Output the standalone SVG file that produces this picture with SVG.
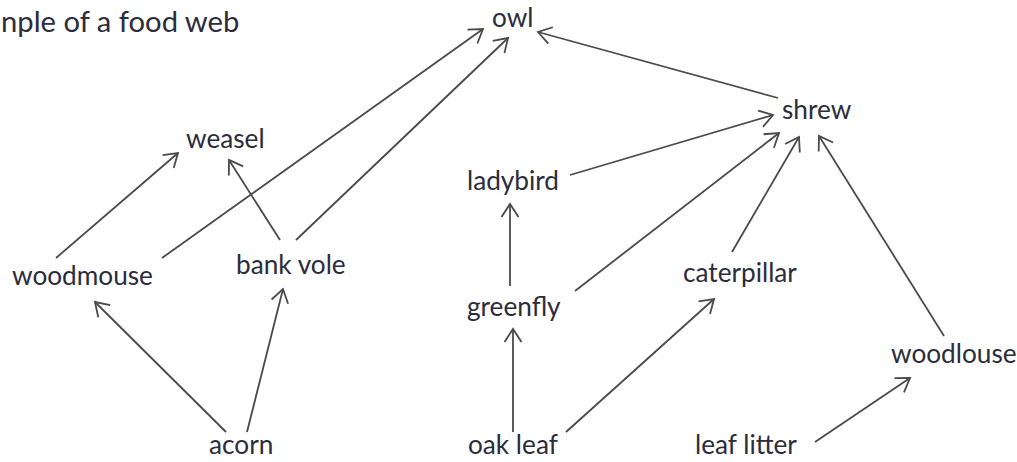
<svg xmlns="http://www.w3.org/2000/svg" width="1017" height="462" viewBox="0 0 1017 462">
<defs>
<marker id="ah" markerUnits="userSpaceOnUse" markerWidth="30" markerHeight="30" viewBox="-20 -15 30 30" refX="0" refY="0" orient="auto">
<path d="M-13,-8.5 L0,0 L-13,8.5" fill="none" stroke="#4a4a4a" stroke-width="1.8" stroke-linejoin="miter"/>
</marker>
</defs>
<style>
text{font-family:Lato,"Liberation Sans",sans-serif;font-size:26.2px;fill:#2b2c3c}
.title{font-size:29.2px}
.c line{stroke:#4a4a4a;stroke-width:1.8;marker-end:url(#ah)}
</style>
<rect width="1017" height="462" fill="#fff"/>
<text class="title" x="1" y="32">nple of a food web</text>
<g class="c" id="connectors">
<line x1="56" y1="258" x2="178" y2="153"/>
<line x1="162" y1="258" x2="483" y2="29"/>
<line x1="280" y1="240" x2="229" y2="160"/>
<line x1="296" y1="240" x2="508" y2="38"/>
<line x1="778" y1="98" x2="538" y2="32"/>
<line x1="570" y1="175" x2="773" y2="115"/>
<line x1="510" y1="286" x2="510" y2="204"/>
<line x1="575" y1="291" x2="779" y2="133"/>
<line x1="732" y1="252" x2="799" y2="137"/>
<line x1="944" y1="336" x2="819" y2="136"/>
<line x1="226" y1="432" x2="95" y2="302"/>
<line x1="247" y1="432" x2="283" y2="289"/>
<line x1="513" y1="432" x2="513" y2="329"/>
<line x1="566" y1="432" x2="714" y2="299"/>
<line x1="815" y1="442" x2="910" y2="378"/>
</g>
<g id="owl"><text x="492" y="27">owl</text></g>
<g id="shrew"><text x="782" y="119">shrew</text></g>
<g id="weasel"><text x="186" y="148">weasel</text></g>
<g id="ladybird"><text x="467" y="190">ladybird</text></g>
<g id="woodmouse"><text x="12" y="285">woodmouse</text></g>
<g id="bankvole"><text x="236" y="274">bank vole</text></g>
<g id="caterpillar"><text x="683" y="282">caterpillar</text></g>
<g id="greenfly"><text x="467" y="316">greenfly</text></g>
<g id="woodlouse"><text x="891" y="363">woodlouse</text></g>
<g id="acorn"><text x="209" y="454">acorn</text></g>
<g id="oakleaf"><text x="468" y="454">oak leaf</text></g>
<g id="leaflitter"><text x="695" y="454">leaf litter</text></g>
</svg>
